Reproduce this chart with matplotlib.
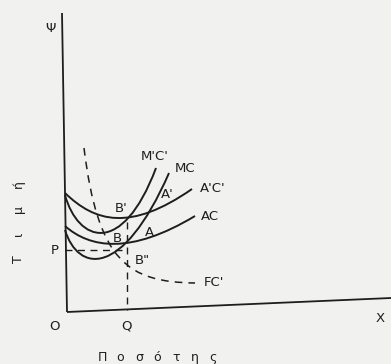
import matplotlib
matplotlib.use("Agg")
import matplotlib.pyplot as plt
from matplotlib.path import Path
from matplotlib.patches import PathPatch

# cost curves, cubic bezier control points (pixel coords)
mc_prime = [(65, 195), (78, 242), (122, 258), (156, 168)]
mc = [(65, 230), (78, 272), (122, 280), (169, 173)]
ac_prime = [(65, 193), (95, 222), (130, 232), (192, 189)]
ac = [(65, 226), (90, 248), (130, 255), (195, 216)]
fc_prime = [(84, 148), (98, 262), (128, 282), (195, 283)]

# axes (the scan is slightly rotated)
y_axis = [(62, 13), (67, 312)]
x_axis = [(67, 312), (391, 298)]
q_line = [(127, 222), (127, 310)]
p_line = [(65, 250), (122, 250)]

labels = ["M'C'", "MC", "A'C'", "AC", "A'", "A", "B'", "B", 'B"', "FC'",
          "P", "O", "Q", "X", "Ψ"]
label_xy = [(155, 156), (185, 168), (213, 188), (210, 216), (167, 195),
            (149, 232), (121, 209), (117, 239), (142, 261), (214, 282),
            (55, 250), (55, 327), (127, 326), (380, 319), (50, 28)]

x_title = "Ποσότης"
y_title = "Τιμή"

ink = "#1e1e1e"
bg = "#f1f1f0"

fig = plt.figure(figsize=(3.91, 3.64), dpi=100, facecolor=bg)
ax = fig.add_axes([0, 0, 1, 1])
ax.set_facecolor(bg)
ax.set_xlim(0, 391)
ax.set_ylim(364, 0)
ax.axis("off")

codes = [Path.MOVETO, Path.CURVE4, Path.CURVE4, Path.CURVE4]
for pts in [mc_prime, mc, ac_prime, ac]:
    ax.add_patch(PathPatch(Path(pts, codes), fill=False, ec=ink, lw=1.4))
ax.add_patch(PathPatch(Path(fc_prime, codes), fill=False, ec=ink, lw=1.1,
                       ls=(0, (5, 4))))

for seg in [y_axis, x_axis]:
    xs, ys = zip(*seg)
    ax.plot(xs, ys, color=ink, lw=1.3, solid_capstyle="butt")
for seg in [q_line, p_line]:
    xs, ys = zip(*seg)
    ax.plot(xs, ys, color=ink, lw=1.0, ls=(0, (5, 4)))

for txt, (x, y) in zip(labels, label_xy):
    ax.text(x, y, txt, ha="center", va="center", fontsize=9.5, color=ink)

# letter-spaced titles, as in the printed original
for i, ch in enumerate(x_title):
    ax.text(102 + i * 18.5, 361, ch, ha="center", va="baseline",
            fontsize=9, color=ink)
for i, ch in enumerate(y_title):
    ax.text(22, 259 - i * 25, ch, ha="center", va="baseline", rotation=90,
            rotation_mode="anchor", fontsize=9, color=ink)

fig.savefig("out.png", dpi=100, facecolor=fig.get_facecolor())
